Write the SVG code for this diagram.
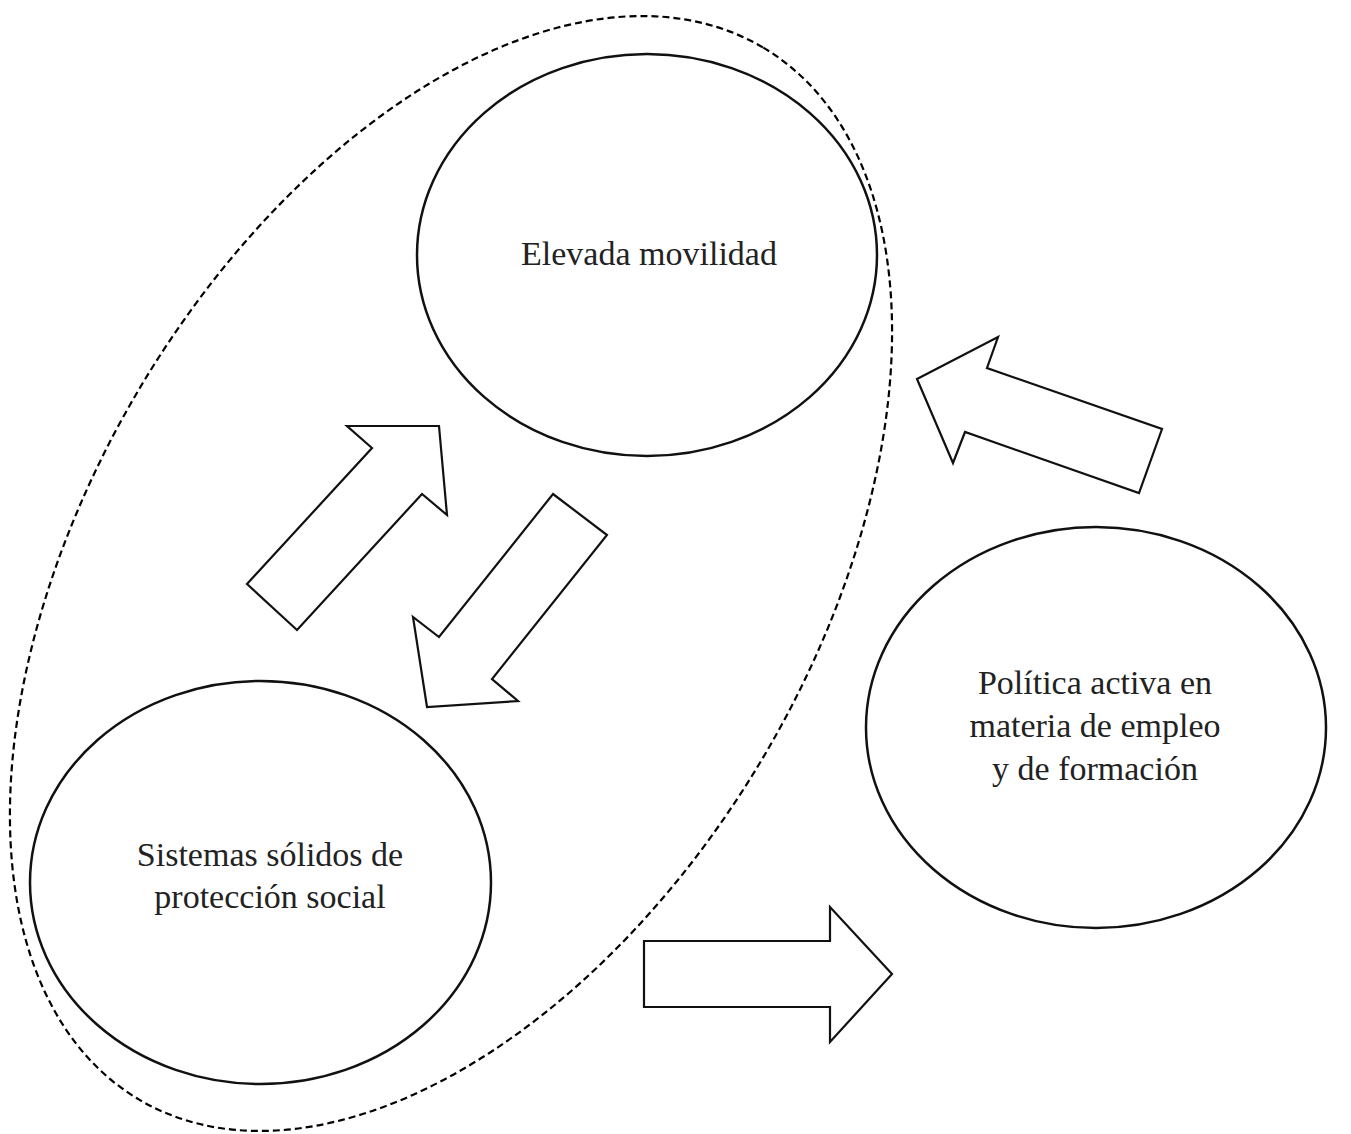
<svg xmlns="http://www.w3.org/2000/svg" width="1351" height="1134" viewBox="0 0 1351 1134">
<style>
.node{fill:#fff;stroke:#111;stroke-width:2.5}
.arr{fill:#fff;stroke:#111;stroke-width:2.2;stroke-linejoin:miter}
.lbl{font-family:"Liberation Serif","DejaVu Serif",serif;font-size:34px;fill:#222;text-anchor:middle}
.group{fill:none;stroke:#000;stroke-width:2.2;stroke-dasharray:7 4}
</style>
<rect width="1351" height="1134" fill="#fff"/>
<g id="node-elevada">
<ellipse class="node" cx="647" cy="255" rx="230" ry="201"/>
<text class="lbl" x="649" y="265">Elevada movilidad</text>
</g>
<g id="node-sistemas">
<ellipse class="node" cx="260.5" cy="882.5" rx="230.5" ry="201.5"/>
<text class="lbl" x="270" y="866">Sistemas sólidos de</text>
<text class="lbl" x="270" y="908">protección social</text>
</g>
<g id="node-politica">
<ellipse class="node" cx="1096" cy="727.5" rx="230" ry="200.5"/>
<text class="lbl" x="1095" y="694">Política activa en</text>
<text class="lbl" x="1095" y="737">materia de empleo</text>
<text class="lbl" x="1095" y="780">y de formación</text>
</g>
<g id="group-outline">
<ellipse class="group" cx="451" cy="573.5" rx="611.6" ry="362.3" transform="rotate(-59.3 451 573.5)"/>
</g>
<g id="connectors">
<polygon class="arr" points="247,584 372,448 347,426 439,426 447,515 422,494 297,630"/>
<polygon class="arr" points="553,494 607,535 492,679 518,701 427,707 413,617 439,637"/>
<polygon class="arr" points="917,379 998,337 987,368 1162,429 1139,493 965,432 953,463"/>
<polygon class="arr" points="644,941 830,941 830,907 892,974 830,1042 830,1007 644,1007"/>
</g>
</svg>
